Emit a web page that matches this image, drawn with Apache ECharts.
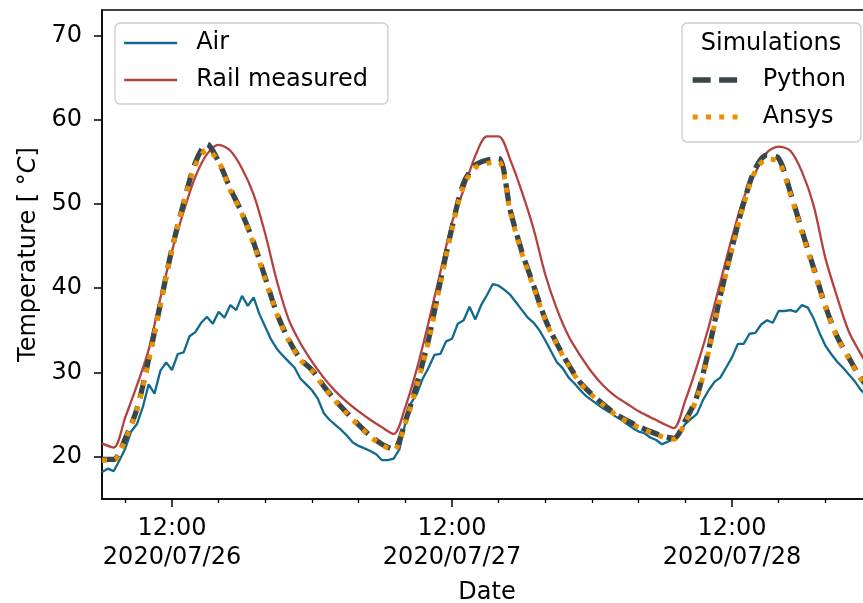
<!DOCTYPE html>
<html lang="en">
<head>
    <meta charset="UTF-8">
    <title>Rail temperature</title>
    <script src="https://cdn.jsdelivr.net/npm/echarts@6/dist/echarts.min.js"></script>
</head>
<style>
    html, body { margin: 0; padding: 0; background: #fff; }
    #container { width: 863px; height: 603px; }
</style>
<body>
<div id="container"></div>
<script>
    // hours counted from 2020/07/26 00:00
    const START_HOUR = 6;

    // measured air temperature, every half hour from 06:00 on 07/26
    const airTemp = [
        18.2, 18.6, 18.3, 19.6, 21.0, 23.0, 23.9, 25.9, 28.6, 27.5,
        30.2, 31.2, 30.3, 32.2, 32.4, 34.3, 34.8, 35.9, 36.6, 35.8,
        37.2, 36.5, 38.0, 37.4, 39.1, 37.9, 38.9, 36.9, 35.4, 33.9,
        32.8, 32.0, 31.3, 30.6, 29.3, 28.6, 27.9, 26.9, 25.2, 24.4,
        23.8, 23.2, 22.5, 21.7, 21.3, 21.0, 20.7, 20.3, 19.6, 19.6,
        19.8, 20.9, 24.0, 26.4, 27.5, 29.3, 30.6, 32.1, 32.2, 33.7,
        34.0, 35.8, 36.2, 37.8, 36.3, 38.0, 39.2, 40.5, 40.3, 39.8,
        39.2, 38.3, 37.4, 36.5, 35.9, 35.0, 33.8, 32.5, 31.2, 30.5,
        29.4, 28.7, 27.9, 27.2, 26.7, 26.2, 25.7, 25.3, 24.8, 24.4,
        23.9, 23.4, 23.0, 22.8, 22.3, 22.0, 21.5, 21.8, 22.1, 22.9,
        23.9, 24.5, 25.1, 26.7, 27.9, 28.9, 29.4, 30.6, 31.8, 33.4,
        33.4, 34.6, 34.7, 35.7, 36.2, 35.9, 37.3, 37.3, 37.4, 37.2,
        38.0, 37.7, 36.4, 34.7, 33.2, 32.2, 31.3, 30.6, 29.8, 29.0,
        28.0, 27.3, 26.8
    ];

    // hourly series from 06:00 on 07/26
    const railTemp = [
        21.6, 21.1, 24.7, 28.5, 32.7, 38.8, 44.4, 49.1, 53.2, 55.9,
        57.0, 56.3, 54.2, 51.1, 46.4, 40.8, 36.3, 33.5, 31.3, 29.4,
        27.8, 26.5, 25.4, 24.4, 23.5, 22.7, 25.9, 30.5, 36.0, 41.9,
        47.8, 51.7, 55.7, 58.0, 58.0, 55.2, 51.4, 47.0, 41.6, 37.5,
        34.3, 32.0, 30.0, 28.4, 27.2, 26.3, 25.4, 24.7, 24.0, 23.4,
        26.7, 30.8, 35.4, 40.7, 46.0, 50.7, 53.7, 56.1, 56.8, 56.3,
        53.8, 49.8, 43.6, 39.0, 34.9, 32.3, 30.0
    ];
    const pythonTemp = [
        19.7, 19.7, 22.2, 25.7, 31.6, 38.1, 44.7, 50.1, 54.9, 57.1,
        55.0, 51.8, 48.9, 45.4, 41.2, 37.0, 33.9, 31.6, 30.3, 28.4,
        26.7, 25.2, 23.8, 22.5, 21.5, 20.9, 24.2, 28.7, 34.0, 40.8,
        47.2, 52.5, 54.6, 55.2, 55.4, 49.2, 44.3, 40.3, 36.3, 33.4,
        30.9, 28.8, 27.4, 26.2, 25.1, 24.3, 23.6, 23.0, 22.5, 22.2,
        24.3, 27.2, 32.7, 39.1, 44.8, 50.1, 54.2, 55.8, 55.4, 51.4,
        46.8, 42.4, 37.9, 34.3, 31.8, 29.4, 27.8
    ];
    const ansysTemp = [
        19.6, 19.6, 22.1, 25.6, 31.4, 38.0, 44.6, 50.0, 54.6, 56.4,
        55.0, 51.6, 48.8, 45.2, 41.0, 36.9, 33.8, 31.5, 30.2, 28.3,
        26.6, 25.1, 23.7, 22.4, 21.4, 20.8, 24.0, 28.5, 33.8, 40.6,
        47.0, 52.2, 54.3, 54.8, 55.0, 49.0, 44.1, 40.1, 36.2, 33.3,
        30.8, 28.7, 27.3, 26.1, 25.0, 24.2, 23.5, 22.9, 22.4, 22.1,
        24.1, 27.0, 32.5, 38.9, 44.6, 49.9, 53.9, 55.3, 55.0, 51.2,
        46.6, 42.2, 37.8, 34.2, 31.7, 29.3, 27.7
    ];

    const xMajorHours = [12, 36, 60];
    const xTickLabels = ['12:00\n2020/07/26', '12:00\n2020/07/27', '12:00\n2020/07/28'];
    const xMinorHours = [8, 16, 20, 24, 28, 32, 40, 44, 48, 52, 56, 64, 68, 72];
    const yTicks = [20, 30, 40, 50, 60, 70];

    const FONT = 'DejaVu Sans';

    function pairs(values, step)
    {
        return values.map(function (v, i) { return [START_HOUR + i * step, v]; });
    }

    var chart = echarts.init(document.getElementById('container'), null, {renderer: 'canvas'});

    var legendBox = {
        orient: 'vertical',
        itemWidth: 53,
        itemHeight: 24,
        itemGap: 13,
        backgroundColor: 'rgba(255,255,255,0.8)',
        borderColor: '#cccccc',
        borderWidth: 1.3,
        borderRadius: 5,
        // hide the round marker, keep only the line sample
        itemStyle: {opacity: 0}
    };

    var option = {
        animation: false,
        grid: {
            left: 102, top: 10, right: -9, bottom: 104,
            outerBoundsMode: 'none',
            show: true, borderColor: '#000', borderWidth: 1.5, backgroundColor: 'transparent'
        },
        xAxis: [
            {
                type: 'value', min: 6, max: 72,
                name: 'Date', nameLocation: 'middle', nameGap: 82,
                nameTextStyle: {fontFamily: FONT, fontSize: 24, color: '#000'},
                axisLine: {lineStyle: {color: '#000', width: 1.5}},
                axisTick: {customValues: xMinorHours, length: 4, lineStyle: {color: '#000', width: 1.3}},
                axisLabel: {show: false},
                splitLine: {show: false}
            },
            {
                type: 'value', min: 6, max: 72, position: 'bottom',
                axisLine: {show: false},
                axisTick: {customValues: xMajorHours, length: 8, lineStyle: {color: '#000', width: 1.5}},
                axisLabel: {
                    customValues: xMajorHours,
                    fontFamily: FONT, fontSize: 24, color: '#000', lineHeight: 29, margin: 15,
                    formatter: function (v) { return xTickLabels[xMajorHours.indexOf(v)]; }
                },
                splitLine: {show: false}
            }
        ],
        yAxis: {
            type: 'value', min: 15, max: 73,
            name: 'Temperature [ °{i|C}]', nameLocation: 'middle', nameGap: 60,
            nameTextStyle: {
                fontFamily: FONT, fontSize: 24, color: '#000',
                rich: {i: {fontFamily: FONT, fontSize: 24, fontStyle: 'italic', color: '#000'}}
            },
            axisLine: {show: true, lineStyle: {color: '#000', width: 1.5}},
            axisTick: {customValues: yTicks, length: 8, lineStyle: {color: '#000', width: 1.5}},
            axisLabel: {customValues: yTicks, fontFamily: FONT, fontSize: 24, color: '#000', margin: 20},
            splitLine: {show: false}
        },
        legend: [
            Object.assign({}, legendBox, {
                left: 115, top: 23, padding: [8, 20, 12, 8],
                textStyle: {fontFamily: FONT, fontSize: 24, color: '#000', padding: [0, 0, 0, 14]},
                data: [
                    {name: 'Air', lineStyle: {width: 2.3}},
                    {name: 'Rail measured', lineStyle: {width: 2.3}}
                ]
            }),
            Object.assign({}, legendBox, {
                left: 682, top: 23, padding: [45, 15, 13, 8],
                textStyle: {fontFamily: FONT, fontSize: 24, color: '#000', padding: [0, 0, 0, 12]},
                data: [
                    {name: 'Python', lineStyle: {width: 5.3, type: [18, 8.5]}},
                    {name: 'Ansys', lineStyle: {width: 5, type: [5, 8.3]}}
                ]
            })
        ],
        graphic: [
            {
                type: 'text', z: 100, x: 771, y: 44,
                style: {
                    text: 'Simulations', font: '24px "DejaVu Sans"', fill: '#000',
                    textAlign: 'center', textVerticalAlign: 'middle'
                }
            }
        ],
        series: [
            {
                name: 'Air', type: 'line', symbol: 'none', data: pairs(airTemp, 0.5),
                lineStyle: {color: '#106a8e', width: 2.3}, itemStyle: {color: '#106a8e'}
            },
            {
                name: 'Rail measured', type: 'line', symbol: 'none', smooth: 0.3, data: pairs(railTemp, 1),
                lineStyle: {color: '#b5403d', width: 2.3}, itemStyle: {color: '#b5403d'}
            },
            {
                name: 'Python', type: 'line', symbol: 'none', smooth: 0.3, data: pairs(pythonTemp, 1),
                lineStyle: {color: '#37474a', width: 5.3, type: [18, 8.5]}, itemStyle: {color: '#37474a'}
            },
            {
                name: 'Ansys', type: 'line', symbol: 'none', smooth: 0.3, data: pairs(ansysTemp, 1),
                lineStyle: {color: '#ea8f00', width: 5, type: [5, 8.3]}, itemStyle: {color: '#ea8f00'}
            }
        ]
    };

    chart.setOption(option);
</script>
</body>
</html>
